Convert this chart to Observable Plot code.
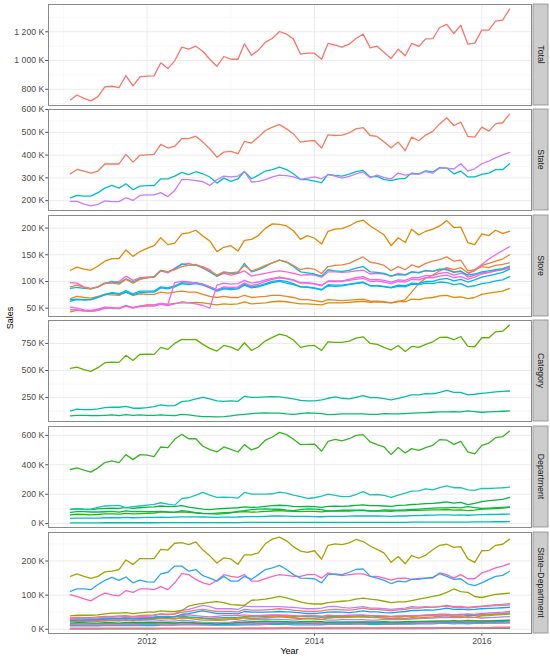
<!DOCTYPE html>
<html><head><meta charset="utf-8">
<script src="https://cdn.jsdelivr.net/npm/d3@7"></script>
<script src="https://cdn.jsdelivr.net/npm/@observablehq/plot@0.6"></script>
<style>
body{margin:0;background:#fff;}
#chart{position:relative;width:550px;height:659px;font-family:"Liberation Sans",Arial,sans-serif;overflow:hidden;}
.lab{position:absolute;font-size:9px;color:#000;white-space:nowrap;}
</style></head><body><div id="chart"></div>
<script>
// Monthly sales (thousands), Feb 2011 .. May 2016
const months = d3.utcMonths(new Date(Date.UTC(2011,1,1)), new Date(Date.UTC(2016,5,1)));

const total = [726,760,737,719,749,816,821,812,895,823,886,891,893,984,944,998,1093,1079,1100,1063,1009,960,1028,1009,1009,1116,1037,1072,1128,1153,1202,1184,1149,1044,1051,1051,1009,1119,1107,1093,1114,1153,1184,1088,1100,1056,1014,1079,1033,1119,1098,1151,1153,1230,1251,1188,1246,1114,1121,1212,1212,1274,1281,1358];

const stateCA = [318,337,330,321,330,361,361,361,403,369,399,401,403,447,431,439,472,472,483,457,428,391,413,416,406,460,453,479,508,523,534,515,493,457,461,464,431,489,486,488,498,515,521,486,482,457,432,457,420,479,463,488,504,537,564,530,545,482,479,523,505,537,542,580];
const stateTX = [212,223,220,220,235,255,267,255,274,248,264,266,266,296,296,308,324,314,327,318,304,277,299,285,296,328,296,312,330,336,347,336,318,293,292,286,279,315,311,308,317,327,333,304,307,292,288,296,298,321,318,331,326,345,343,318,330,304,304,315,321,336,336,362];
const stateWI = [197,197,185,177,184,199,196,196,213,201,223,225,225,235,218,245,293,292,288,283,267,292,308,304,308,328,282,285,292,304,312,310,304,293,299,304,296,314,308,299,307,318,326,301,312,301,295,321,312,318,315,328,321,343,343,339,362,330,340,362,374,388,401,412];

const storeCA1 = [90,93,89,86,90,97,97,95,104,97,104,107,108,120,118,122,128,130,132,126,120,112,118,116,118,130,120,124,130,135,140,137,130,122,125,123,115,128,130,131,134,140,146,136,134,130,120,128,122,131,127,134,138,141,146,138,140,120,122,128,126,130,132,135];
const storeCA2 = [68,72,70,69,72,76,75,74,80,74,77,76,76,80,78,80,82,80,80,76,72,70,72,70,70,74,70,71,72,74,74,72,70,66,66,64,62,66,65,64,65,66,67,63,63,62,60,62,66,80,96,106,112,120,126,122,126,116,120,130,134,138,142,150];
const storeCA3 = [121,127,123,121,129,138,143,143,159,147,156,162,167,182,169,172,189,191,196,185,176,156,164,167,157,177,179,186,200,208,207,204,195,179,186,181,170,194,198,199,204,211,215,204,196,187,167,182,173,198,187,194,198,204,214,201,202,173,169,189,186,196,190,194];
const storeCA4 = [43,46,45,44,46,50,50,49,55,51,54,56,56,58,57,59,60,60,61,60,58,56,58,57,58,62,58,59,60,62,63,62,60,58,58,57,56,60,60,60,61,62,63,61,62,61,60,63,62,67,66,69,70,73,74,70,71,68,70,76,78,80,82,87];
const storeTX1 = [66,67,66,66,70,76,79,77,83,77,82,82,82,90,88,92,98,97,98,95,90,84,88,87,88,95,90,92,96,100,102,100,96,90,90,88,85,94,93,93,95,97,99,92,92,90,88,91,90,95,94,97,96,99,98,94,96,90,92,96,98,101,103,109];
const storeTX2 = [87,89,87,86,90,96,100,97,105,99,105,107,109,121,118,123,133,130,131,125,118,110,117,115,116,134,118,122,128,135,140,136,128,118,116,114,110,122,120,119,121,125,128,118,117,115,110,113,112,118,116,121,119,123,122,117,119,112,114,118,120,122,124,129];
const storeTX3 = [63,66,65,66,70,75,78,76,80,75,79,80,80,88,86,90,96,94,96,93,88,82,86,85,86,93,88,90,94,98,100,97,94,90,89,87,84,92,91,92,94,96,98,92,92,91,89,93,92,97,96,100,100,104,106,101,104,99,103,108,111,114,117,123];
const storeWI1 = [47,47,45,44,46,50,50,49,54,50,53,54,54,57,55,58,62,60,58,55,50,93,97,95,96,102,97,99,103,106,108,106,103,98,98,96,93,100,100,100,102,104,106,100,101,99,96,100,99,104,103,107,107,110,112,107,109,104,108,114,117,120,123,127];
const storeWI2 = [52,50,47,46,48,52,51,50,55,51,54,55,56,59,57,98,100,99,97,95,90,85,90,89,90,97,92,95,100,104,107,105,102,97,97,95,92,101,101,101,104,107,109,103,104,102,99,103,102,107,107,111,111,115,117,112,115,113,122,132,142,150,158,165];
const storeWI3 = [98,97,90,87,90,97,98,100,110,102,107,108,108,120,116,125,132,134,130,128,122,110,115,112,115,120,110,113,115,118,120,118,115,112,113,112,108,118,118,117,118,120,121,114,115,114,110,115,113,118,117,120,119,122,124,118,120,108,112,116,117,120,122,125];

const catFOODS = [520,532,508,492,526,572,578,575,640,593,649,652,649,713,695,750,787,784,787,741,704,679,731,716,685,756,685,719,774,805,836,820,781,713,728,731,685,765,759,759,771,799,811,750,741,713,689,731,676,722,713,741,765,805,808,784,814,722,719,802,802,857,863,919];
const catHOUSEHOLD = [127,143,140,140,146,158,161,161,170,152,152,158,167,183,173,176,213,219,238,253,238,219,216,219,216,262,253,253,256,259,256,247,238,225,219,219,229,244,256,244,238,253,268,250,250,241,229,244,259,275,275,287,284,299,317,299,299,275,281,290,296,302,308,311];
const catHOBBIES = [81,87,87,84,84,87,90,84,93,87,90,87,87,90,87,84,96,90,81,75,75,72,75,81,90,96,103,106,109,106,106,100,96,103,109,106,103,93,96,100,100,100,100,96,96,103,100,100,103,106,109,112,115,118,118,121,118,127,121,115,118,121,124,127];

const deptFOODS1 = [60,64,62,60,62,66,66,65,70,66,68,70,72,80,76,78,80,76,74,70,68,72,74,76,78,82,78,80,84,86,88,86,84,82,84,83,80,86,86,85,86,88,90,86,86,85,84,88,87,90,90,92,93,94,96,92,94,88,92,98,100,102,105,110];
const deptFOODS2 = [97,101,97,95,100,104,106,104,110,104,108,112,114,120,116,118,122,112,105,98,95,100,103,105,108,114,110,112,118,122,125,122,118,116,118,115,110,118,119,118,120,124,128,122,122,120,118,124,126,130,132,136,138,142,148,140,144,130,138,150,156,160,165,178];
const deptFOODS3 = [368,379,363,350,379,415,426,415,469,435,469,465,456,521,517,573,607,577,577,526,503,487,521,505,487,537,501,519,568,589,620,605,573,537,539,541,492,559,573,562,577,600,605,555,537,521,469,517,480,510,498,517,532,571,568,539,559,487,474,532,548,584,591,629];
const deptHOBBIES1 = [76,82,82,79,79,81,84,78,87,81,84,81,81,83,80,77,89,83,74,68,68,65,68,74,83,88,95,98,101,98,98,92,88,95,101,98,95,85,87,91,91,91,91,87,87,94,91,91,94,96,99,102,105,107,107,110,107,116,109,103,106,108,111,113];
const deptHOBBIES2 = [5,5,5,5,5,6,6,6,6,6,6,6,6,7,7,7,7,7,7,7,7,7,7,7,7,8,8,8,8,8,8,8,8,8,8,8,8,8,9,9,9,9,9,9,9,9,9,9,9,10,10,10,10,11,11,11,11,11,12,12,12,13,13,14];
const deptHOUSEHOLD1 = [97,104,99,99,110,120,122,124,108,115,120,126,131,142,133,126,171,176,194,212,194,178,180,178,174,212,201,201,201,203,214,208,194,183,171,176,187,201,192,183,183,198,217,196,198,192,178,194,208,221,223,237,230,244,257,244,244,230,226,239,239,241,244,248];
const deptHOUSEHOLD2 = [36,38,38,38,38,40,40,40,42,40,41,42,42,44,43,44,46,46,46,45,44,43,44,44,45,48,48,48,50,52,52,51,50,49,49,48,47,49,50,50,51,52,53,52,52,51,50,52,52,54,55,57,58,59,60,58,59,57,59,61,62,63,64,65];

const sdCA_FOODS_1 = [22,24,23,22,23,26,26,26,28,26,28,28,29,32,31,32,33,33,34,32,30,28,30,30,29,33,31,32,34,35,36,35,33,31,32,31,29,33,34,34,35,36,37,35,34,33,31,33,31,34,33,35,36,38,39,37,38,34,35,39,40,42,43,45];
const sdCA_FOODS_2 = [33,35,34,34,36,38,38,39,40,38,40,41,42,45,44,44,50,52,56,58,55,52,52,52,51,58,56,56,57,58,60,58,56,54,52,52,54,57,58,57,56,58,62,58,58,56,54,57,58,62,62,64,64,66,70,66,67,64,66,68,70,72,73,75];
const sdCA_FOODS_3 = [155,162,155,149,155,168,170,175,203,190,207,207,207,234,232,252,254,248,256,232,215,194,209,206,190,218,218,224,251,264,270,259,242,229,225,230,205,246,250,248,253,263,257,244,234,223,196,213,192,216,208,217,233,246,249,240,242,206,196,230,231,246,249,264];
const sdCA_HOBBIES_1 = [28,32,32,31,30,31,32,30,33,31,32,31,31,32,31,30,34,32,29,27,27,26,27,29,33,35,38,39,40,39,39,37,35,38,40,39,38,34,35,36,36,36,36,35,35,37,36,36,37,38,39,40,41,42,42,43,42,45,43,41,42,43,44,45];
const sdCA_HOBBIES_2 = [3,3,3,3,3,3,3,3,3,3,3,3,3,3,3,3,3,3,3,3,3,3,3,3,3,4,4,4,4,4,4,4,4,4,4,4,4,4,4,4,4,4,4,4,4,4,4,4,4,5,5,5,5,5,5,5,5,5,5,5,5,6,6,6];
const sdCA_HOUSEHOLD_1 = [39,41,41,41,42,45,47,47,49,46,48,50,50,54,52,52,55,68,73,76,79,81,78,72,71,70,85,86,88,92,96,92,86,80,76,74,74,78,80,82,84,88,91,88,86,82,78,80,80,84,88,92,96,100,108,118,110,108,96,93,98,102,104,106];
const sdCA_HOUSEHOLD_2 = [14,15,15,15,15,16,16,16,17,16,17,17,17,18,18,18,19,19,19,19,18,18,18,18,18,20,20,20,21,21,21,21,20,20,20,19,19,20,20,20,21,21,22,21,21,21,20,21,21,22,22,23,23,24,24,23,24,23,24,25,25,26,26,27];
const sdTX_FOODS_1 = [12,13,13,12,13,14,14,14,15,14,15,15,16,17,17,17,18,17,17,16,15,14,15,15,16,17,16,17,18,18,19,18,18,17,17,17,16,18,18,18,18,19,19,18,18,18,17,18,18,19,19,20,20,21,21,20,21,19,20,21,22,22,23,24];
const sdTX_FOODS_2 = [30,31,30,29,31,32,33,32,34,32,34,35,36,38,37,37,38,36,35,33,32,33,34,34,35,37,36,36,38,39,40,39,38,37,37,36,35,37,37,37,38,39,40,39,38,38,37,38,38,39,40,41,42,42,43,42,43,40,41,43,44,45,46,48];
const sdTX_FOODS_3 = [111,118,118,116,131,143,152,143,153,136,144,139,138,162,167,185,185,170,175,157,150,141,155,141,141,155,146,160,175,180,187,175,160,150,149,148,136,160,162,160,167,175,177,155,150,143,134,141,139,146,146,150,152,163,155,146,148,133,128,136,146,155,158,170];
const sdTX_HOBBIES_1 = [18,19,19,18,18,19,19,18,20,19,19,19,19,20,19,18,21,20,18,17,17,16,17,18,20,21,22,23,24,23,23,22,21,22,23,23,22,20,21,21,21,21,21,21,21,22,21,21,22,22,23,23,24,24,24,25,24,26,25,24,24,25,25,26];
const sdTX_HOBBIES_2 = [1,1,1,1,1,1,1,1,1,1,1,1,1,2,2,2,2,2,2,2,2,2,2,2,2,2,2,2,2,2,2,2,2,2,2,2,2,2,2,2,2,2,2,2,2,2,2,2,2,2,2,2,2,3,3,3,3,3,3,3,3,3,3,3];
const sdTX_HOUSEHOLD_1 = [25,27,27,27,28,30,31,31,32,30,31,32,33,36,35,36,44,46,50,54,50,46,46,46,45,52,50,50,50,51,52,51,50,48,46,46,48,50,51,50,49,51,54,51,51,49,48,50,52,55,55,57,56,58,62,58,59,57,58,60,61,62,63,64];
const sdTX_HOUSEHOLD_2 = [10,10,10,10,10,11,11,11,11,11,11,11,11,12,12,12,13,13,13,13,12,12,12,12,12,13,13,13,14,14,14,14,13,13,13,13,13,14,14,14,14,15,15,14,14,14,14,15,15,15,16,16,16,17,17,16,17,16,17,17,18,18,18,19];
const sdWI_FOODS_1 = [14,15,14,14,14,15,15,15,16,15,16,16,16,18,17,17,18,18,18,17,16,17,18,18,18,19,18,19,20,20,21,21,20,19,20,20,18,20,20,20,21,21,22,21,21,20,19,20,20,21,21,22,22,23,23,22,23,22,23,24,25,25,26,26];
const sdWI_FOODS_2 = [28,27,25,24,26,30,30,30,33,32,34,34,34,36,34,38,40,42,40,38,36,38,40,40,40,42,40,40,41,42,42,41,40,39,40,40,38,41,40,40,41,42,42,40,40,39,38,39,40,39,40,41,41,44,44,42,44,43,44,46,48,49,50,52];
const sdWI_FOODS_3 = [101,96,89,83,96,106,101,98,113,108,118,118,116,125,116,136,163,160,146,136,131,143,160,155,152,160,141,141,148,155,160,158,155,155,160,161,150,165,160,157,160,162,162,155,155,150,144,149,150,146,149,150,150,165,160,150,160,148,148,165,172,180,185,192];
const sdWI_HOBBIES_1 = [22,24,24,23,24,24,25,24,26,24,25,24,24,25,24,24,27,25,22,20,20,19,20,21,24,26,28,29,30,29,29,28,27,29,31,30,29,27,27,28,28,28,28,27,27,29,28,28,29,30,31,32,33,34,34,35,34,37,35,33,34,35,36,37];
const sdWI_HOBBIES_2 = [1,1,1,1,1,2,2,2,2,2,2,2,2,2,2,2,2,2,2,2,2,2,2,2,2,2,2,2,2,2,3,3,3,3,3,3,3,3,3,3,3,3,3,3,3,3,3,3,3,3,3,3,3,4,4,4,4,4,4,4,4,4,4,5];
const sdWI_HOUSEHOLD_1 = [30,32,32,32,33,35,36,36,38,36,37,38,40,44,42,46,55,58,64,70,66,60,60,60,58,68,66,66,66,66,66,65,64,62,60,60,62,66,67,64,62,64,66,62,62,60,58,60,62,66,65,66,65,66,68,64,64,62,64,66,68,69,70,71];
const sdWI_HOUSEHOLD_2 = [12,13,13,13,13,13,13,13,14,13,13,14,14,14,13,14,14,14,14,13,14,13,14,14,15,15,15,15,15,17,17,16,17,16,16,16,15,15,16,16,16,16,16,17,17,16,16,16,16,17,17,18,19,18,19,19,18,18,18,19,19,19,20,19];

// Axis ticks (thousands)
const ticksTotal = [800,1000,1200], minorTotal = [700,900,1100,1300];
const ticksState = [200,300,400,500,600], minorState = [150,250,350,450,550];
const ticksStore = [50,100,150,200], minorStore = [25,75,125,175];
const ticksCat = [250,500,750], minorCat = [125,375,625,875];
const ticksDept = [0,200,400,600], minorDept = [100,300,500];
const ticksSD = [0,100,200], minorSD = [50,150,250];
const yearTicks = [2012,2014,2016], yearMinor = [2011,2013,2015];

const panels = [
  {label:"Total", ticks:ticksTotal, minor:minorTotal, series:[
    {key:"Total", values:total, color:"#F8766D"}]},
  {label:"State", ticks:ticksState, minor:minorState, series:[
    {key:"CA", values:stateCA, color:"#F57B5F"},
    {key:"TX", values:stateTX, color:"#00BFC4"},
    {key:"WI", values:stateWI, color:"#C77CFF"}]},
  {label:"Store", ticks:ticksStore, minor:minorStore, series:[
    {key:"CA_4", values:storeCA4, color:"#DC8E00"},
    {key:"CA_2", values:storeCA2, color:"#EA8524"},
    {key:"TX_3", values:storeTX3, color:"#00B2F3"},
    {key:"TX_1", values:storeTX1, color:"#00BAE0"},
    {key:"WI_1", values:storeWI1, color:"#E76BF3"},
    {key:"WI_2", values:storeWI2, color:"#F564E3"},
    {key:"WI_3", values:storeWI3, color:"#FD61D1"},
    {key:"TX_2", values:storeTX2, color:"#00BCD6"},
    {key:"CA_1", values:storeCA1, color:"#F07F44"},
    {key:"CA_3", values:storeCA3, color:"#E38900"}]},
  {label:"Category", ticks:ticksCat, minor:minorCat, series:[
    {key:"HOBBIES", values:catHOBBIES, color:"#00BE6C"},
    {key:"HOUSEHOLD", values:catHOUSEHOLD, color:"#00C1A5"},
    {key:"FOODS", values:catFOODS, color:"#5EB300"}]},
  {label:"Department", ticks:ticksDept, minor:minorDept, series:[
    {key:"HOBBIES_2", values:deptHOBBIES2, color:"#00C1A0"},
    {key:"HOUSEHOLD_2", values:deptHOUSEHOLD2, color:"#00BECB"},
    {key:"FOODS_1", values:deptFOODS1, color:"#2DB600"},
    {key:"HOBBIES_1", values:deptHOBBIES1, color:"#00BC55"},
    {key:"FOODS_2", values:deptFOODS2, color:"#00BA3E"},
    {key:"HOUSEHOLD_1", values:deptHOUSEHOLD1, color:"#1CC3B8"},
    {key:"FOODS_3", values:deptFOODS3, color:"#39B425"}]},
  {label:"State\u2013Department", ticks:ticksSD, minor:minorSD, series:[
    {key:"TX_HOBBIES_2", values:sdTX_HOBBIES_2, color:"#00C08B"},
    {key:"WI_HOBBIES_2", values:sdWI_HOBBIES_2, color:"#FD61D1"},
    {key:"CA_HOBBIES_2", values:sdCA_HOBBIES_2, color:"#F8766D"},
    {key:"TX_HOUSEHOLD_2", values:sdTX_HOUSEHOLD_2, color:"#00BCD8"},
    {key:"WI_HOUSEHOLD_2", values:sdWI_HOUSEHOLD_2, color:"#FF65AC"},
    {key:"TX_FOODS_1", values:sdTX_FOODS_1, color:"#00B0F6"},
    {key:"WI_FOODS_1", values:sdWI_FOODS_1, color:"#E76BF3"},
    {key:"CA_HOUSEHOLD_2", values:sdCA_HOUSEHOLD_2, color:"#FF6C91"},
    {key:"TX_HOBBIES_1", values:sdTX_HOBBIES_1, color:"#00BA38"},
    {key:"WI_HOBBIES_1", values:sdWI_HOBBIES_1, color:"#9590FF"},
    {key:"CA_FOODS_1", values:sdCA_FOODS_1, color:"#E68613"},
    {key:"TX_FOODS_2", values:sdTX_FOODS_2, color:"#00BFC4"},
    {key:"CA_HOBBIES_1", values:sdCA_HOBBIES_1, color:"#C49A00"},
    {key:"WI_FOODS_2", values:sdWI_FOODS_2, color:"#FF61C3"},
    {key:"TX_HOUSEHOLD_1", values:sdTX_HOUSEHOLD_1, color:"#00A9FF"},
    {key:"WI_HOUSEHOLD_1", values:sdWI_HOUSEHOLD_1, color:"#B983FF"},
    {key:"CA_FOODS_2", values:sdCA_FOODS_2, color:"#F8766D"},
    {key:"CA_HOUSEHOLD_1", values:sdCA_HOUSEHOLD_1, color:"#8FAA00"},
    {key:"WI_FOODS_3", values:sdWI_FOODS_3, color:"#FF62BC"},
    {key:"TX_FOODS_3", values:sdTX_FOODS_3, color:"#2DA6F5"},
    {key:"CA_FOODS_3", values:sdCA_FOODS_3, color:"#A3A500"}]}
];

panels.forEach(p => p.series.forEach(s => {
  if (s.values.length !== months.length) throw new Error("bad length " + p.label + " " + s.key + " " + s.values.length);
}));

const W = 550, panelLeft = 48, panelRight = 531, panelH = 101, top0 = 3.5, pitch = 105.6;
const fmtNum = d3.formatLocale({decimal:".", thousands:"\u00a0", grouping:[3], currency:["",""]}).format(",");
const yr = y => new Date(Date.UTC(y,0,1));
const span = +months[months.length-1] - +months[0];
const xDomain = [new Date(+months[0] - 0.05*span), new Date(+months[months.length-1] + 0.05*span)];
const chart = document.getElementById("chart");

function strip(label) {
  return (index, scales, values, dim) => {
    const g = d3.create("svg:g");
    const x0 = dim.width - dim.marginRight + 2, w = 15;
    const y0 = dim.marginTop, h = dim.height - dim.marginTop - dim.marginBottom;
    g.append("rect").attr("x", x0).attr("y", y0).attr("width", w).attr("height", h)
      .attr("fill", "#CDCDCD").attr("stroke", "#8a8a8a").attr("stroke-width", 0.8);
    g.append("text").attr("transform", `translate(${x0 + w/2},${y0 + h/2}) rotate(90)`)
      .attr("text-anchor", "middle").attr("dominant-baseline", "central")
      .attr("fill", "#1A1A1A").attr("font-size", "8.7px").text(label);
    return g.node();
  };
}

panels.forEach((p, k) => {
  const all = p.series.flatMap(s => s.values);
  const ext = d3.extent(all), r = ext[1] - ext[0];
  const yDomain = [ext[0] - 0.05*r, ext[1] + 0.05*r];
  const inY = v => v >= yDomain[0] && v <= yDomain[1];
  const last = k === panels.length - 1;
  const mt = 6, mb = last ? 30 : 2;
  const plot = Plot.plot({
    width: W, height: panelH + mt + mb,
    marginLeft: panelLeft, marginRight: W - panelRight, marginTop: mt, marginBottom: mb,
    style: {background: "transparent", overflow: "visible", fontFamily: "Liberation Sans, Arial, sans-serif", fontSize: "8.7px", color: "#4D4D4D"},
    x: {type: "utc", domain: xDomain, axis: last ? "bottom" : null, ticks: yearTicks.map(yr),
        tickFormat: d3.utcFormat("%Y"), tickSize: 2.7, tickPadding: 1.5, label: null},
    y: {domain: yDomain, ticks: p.ticks, tickFormat: d => fmtNum(d) + " K", tickSize: 2.7, tickPadding: 1.5, label: null},
    marks: [
      Plot.ruleX(yearMinor.map(yr), {stroke: "#F4F4F4", strokeWidth: 0.6}),
      Plot.ruleY(p.minor.filter(inY), {stroke: "#F4F4F4", strokeWidth: 0.6}),
      Plot.ruleX(yearTicks.map(yr), {stroke: "#EBEBEB", strokeWidth: 1}),
      Plot.ruleY(p.ticks.filter(inY), {stroke: "#EBEBEB", strokeWidth: 1}),
      ...p.series.map(s => Plot.line(s.values, {x: (d, i) => months[i], y: d => d, stroke: s.color, strokeWidth: 1.3})),
      Plot.frame({stroke: "#8a8a8a", strokeWidth: 1}),
      strip(p.label)
    ]
  });
  plot.style.position = "absolute";
  plot.style.left = "0px";
  plot.style.top = (top0 + pitch*k - mt) + "px";
  chart.appendChild(plot);
});

const sales = document.createElement("div");
sales.className = "lab"; sales.textContent = "Sales";
sales.style.left = "10px"; sales.style.top = "318px";
sales.style.transform = "translate(-50%,-50%) rotate(-90deg)";
chart.appendChild(sales);
const year = document.createElement("div");
year.className = "lab"; year.textContent = "Year";
year.style.left = ((panelLeft + panelRight)/2) + "px"; year.style.top = "651px";
year.style.transform = "translate(-50%,-50%)";
chart.appendChild(year);
</script>
</body></html>
